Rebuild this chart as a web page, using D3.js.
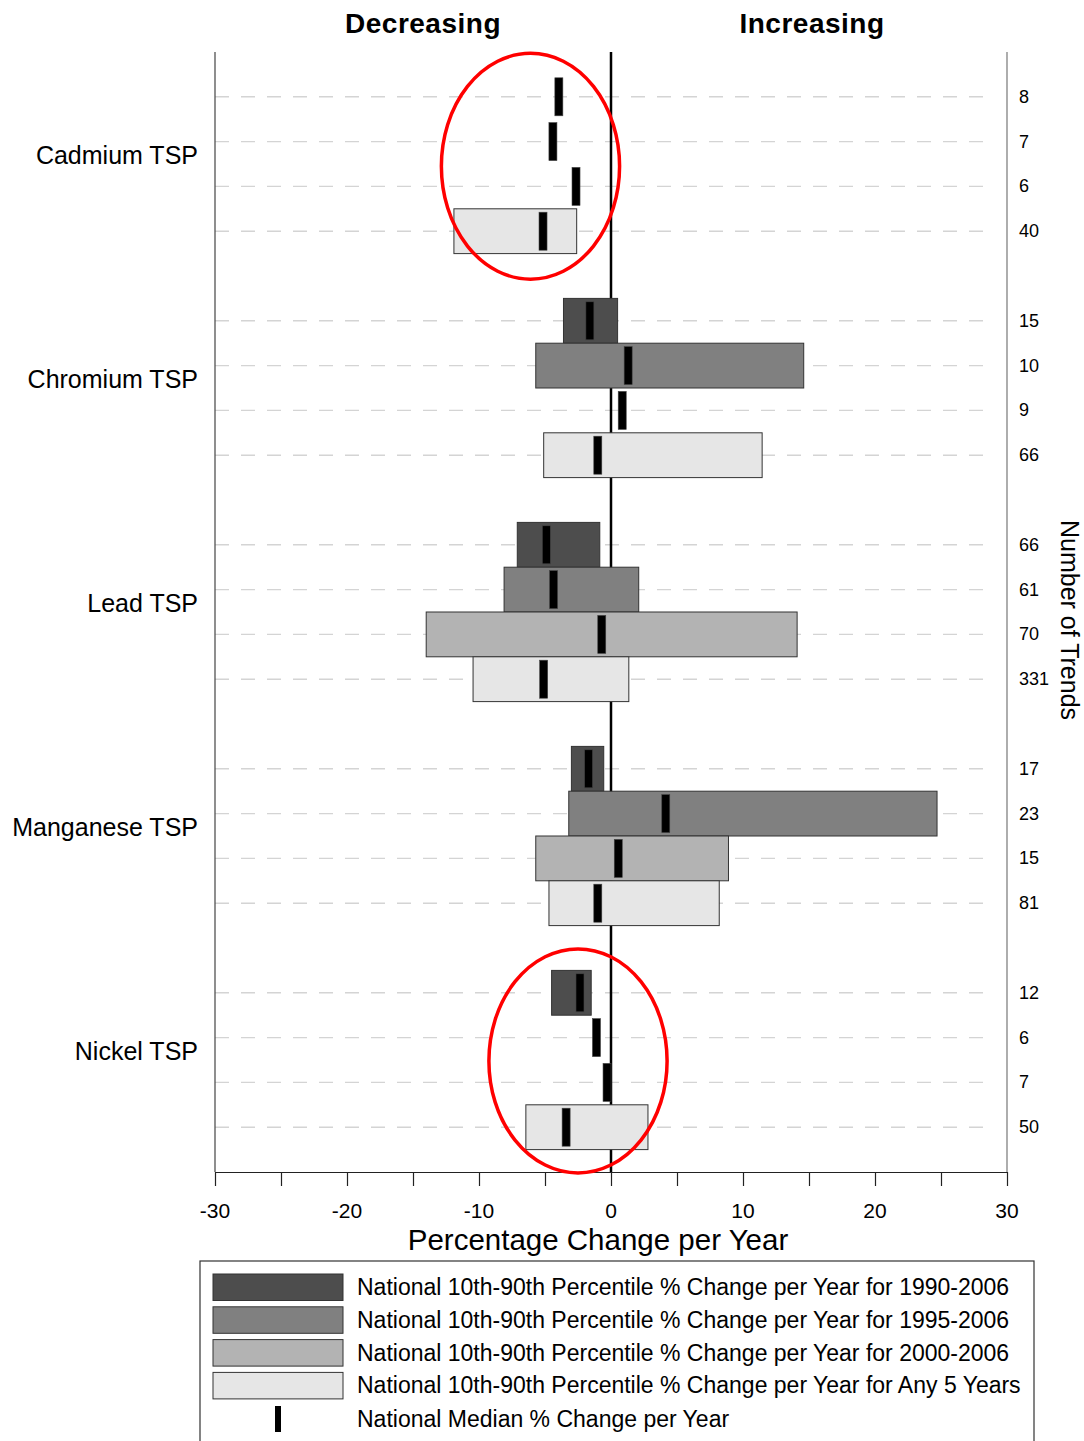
<!DOCTYPE html>
<html>
<head>
<meta charset="utf-8">
<script src="https://cdn.jsdelivr.net/npm/d3@7"></script>
<style>
  body { margin: 0; background: #fff; }
  svg text { font-family: Arial, "Liberation Sans", sans-serif; fill: #000; }
</style>
</head>
<body>
<div id="chart"></div>
<script>
// pollutants, top to bottom
const pollutants = ["Cadmium TSP", "Chromium TSP", "Lead TSP", "Manganese TSP", "Nickel TSP"];

// trend periods (one row each inside a pollutant group)
const periods = [
  "National 10th-90th Percentile % Change per Year for 1990-2006",
  "National 10th-90th Percentile % Change per Year for 1995-2006",
  "National 10th-90th Percentile % Change per Year for 2000-2006",
  "National 10th-90th Percentile % Change per Year for Any 5 Years"
];
const medianLabel = "National Median % Change per Year";

// 10th percentile (null = no bar shown)
const p10 = [
  [null, null, null, -11.9],
  [-3.6, -5.7, null, -5.1],
  [-7.1, -8.1, -14.0, -10.45],
  [-3.0, -3.2, -5.7, -4.7],
  [-4.5, null, null, -6.45]
];

// 90th percentile
const p90 = [
  [null, null, null, -2.6],
  [0.5, 14.6, null, 11.45],
  [-0.85, 2.1, 14.1, 1.35],
  [-0.55, 24.7, 8.9, 8.2],
  [-1.5, null, null, 2.8]
];

// medians
const medians = [
  [-3.95, -4.4, -2.65, -5.15],
  [-1.6, 1.3, 0.85, -1.0],
  [-4.9, -4.35, -0.7, -5.1],
  [-1.7, 4.15, 0.55, -1.0],
  [-2.35, -1.1, -0.3, -3.4]
];

// number of trends (right side labels)
const trendCounts = [
  [8, 7, 6, 40],
  [15, 10, 9, 66],
  [66, 61, 70, 331],
  [17, 23, 15, 81],
  [12, 6, 7, 50]
];

const periodColors = ["#4d4d4d", "#808080", "#b3b3b3", "#e6e6e6"];

// highlighted groups (red ellipses): [center value, center row, x radius, row radius]
const highlights = [
  [-6.1, 2.55, 6.75, 2.52],
  [-2.5, 22.52, 6.75, 2.5]
];

const xTicks = [-30, -20, -10, 0, 10, 20, 30];

const W = 1084, H = 1441;
const plot = { left: 215, right: 1007, top: 52, bottom: 1172 };

const svg = d3.select("#chart").append("svg")
  .attr("width", W)
  .attr("height", H);

const x = d3.scaleLinear().domain([-30, 30]).range([plot.left, plot.right]);
// 5 slots per pollutant (4 rows + gap), 25 slots in all
const y = d3.scaleLinear().domain([0, 25]).range([plot.top, plot.bottom]);
const rowH = y(1) - y(0);

// flatten rows
const rows = [];
pollutants.forEach((p, gi) => {
  periods.forEach((per, pi) => {
    rows.push({
      group: gi, period: pi, slot: gi * 5 + pi + 1,
      lo: p10[gi][pi], hi: p90[gi][pi], med: medians[gi][pi], n: trendCounts[gi][pi]
    });
  });
});

// dashed gridlines
svg.append("g").selectAll("line")
  .data(rows)
  .join("line")
    .attr("x1", plot.left)
    .attr("x2", plot.right - 12)
    .attr("y1", d => y(d.slot))
    .attr("y2", d => y(d.slot))
    .attr("stroke", "#d4d4d4")
    .attr("stroke-width", 1.4)
    .attr("stroke-dasharray", "14,12");

// zero line
svg.append("line")
  .attr("x1", x(0)).attr("x2", x(0))
  .attr("y1", plot.top).attr("y2", plot.bottom)
  .attr("stroke", "#000")
  .attr("stroke-width", 2.5);

// percentile bars
svg.append("g").selectAll("rect")
  .data(rows.filter(d => d.lo !== null))
  .join("rect")
    .attr("x", d => x(d.lo))
    .attr("width", d => x(d.hi) - x(d.lo))
    .attr("y", d => y(d.slot) - rowH / 2)
    .attr("height", rowH)
    .attr("fill", d => periodColors[d.period])
    .attr("stroke", "#333")
    .attr("stroke-width", 1);

// medians
svg.append("g").selectAll("rect")
  .data(rows)
  .join("rect")
    .attr("x", d => x(d.med) - 4)
    .attr("width", 8)
    .attr("y", d => y(d.slot) - 19)
    .attr("height", 38)
    .attr("fill", "#000")
    .attr("stroke", "#444")
    .attr("stroke-width", 0.6);

// left and right frame lines
svg.append("line")
  .attr("x1", plot.left).attr("x2", plot.left)
  .attr("y1", plot.top).attr("y2", plot.bottom)
  .attr("stroke", "#444").attr("stroke-width", 1.2);
svg.append("line")
  .attr("x1", plot.right).attr("x2", plot.right)
  .attr("y1", plot.top).attr("y2", plot.bottom)
  .attr("stroke", "#777").attr("stroke-width", 1.2);

// bottom axis
const xAxis = svg.append("g")
  .attr("transform", `translate(0,${plot.bottom})`)
  .call(d3.axisBottom(x).tickValues(d3.range(-30, 31, 5)).tickSize(14).tickSizeOuter(0).tickFormat(""));
xAxis.select(".domain").attr("stroke", "#222").attr("stroke-width", 1.2);
xAxis.selectAll(".tick line").attr("stroke", "#222").attr("stroke-width", 1.2);

svg.append("g").selectAll("text")
  .data(xTicks)
  .join("text")
    .attr("x", d => x(d))
    .attr("y", 1218)
    .attr("text-anchor", "middle")
    .style("font-size", "21px")
    .text(d => d);

svg.append("text")
  .attr("x", 598)
  .attr("y", 1250)
  .attr("text-anchor", "middle")
  .style("font-size", "29.5px")
  .text("Percentage Change per Year");

// pollutant labels
svg.append("g").selectAll("text")
  .data(pollutants)
  .join("text")
    .attr("x", 198)
    .attr("y", (d, i) => y(i * 5 + 2.5))
    .attr("text-anchor", "end")
    .style("font-size", "25px")
    .text(d => d);

// number of trends
svg.append("g").selectAll("text")
  .data(rows)
  .join("text")
    .attr("x", 1019)
    .attr("y", d => y(d.slot) + 6)
    .style("font-size", "18px")
    .text(d => d.n);

svg.append("text")
  .attr("transform", "translate(1061,620) rotate(90)")
  .attr("text-anchor", "middle")
  .style("font-size", "25px")
  .text("Number of Trends");

// headers
svg.append("text")
  .attr("x", 423).attr("y", 33)
  .attr("text-anchor", "middle")
  .style("font-size", "28px").style("font-weight", "bold").style("letter-spacing", "0.5px")
  .text("Decreasing");
svg.append("text")
  .attr("x", 812).attr("y", 33)
  .attr("text-anchor", "middle")
  .style("font-size", "28px").style("font-weight", "bold").style("letter-spacing", "0.5px")
  .text("Increasing");

// red ellipses
svg.append("g").selectAll("ellipse")
  .data(highlights)
  .join("ellipse")
    .attr("cx", d => x(d[0]))
    .attr("cy", d => y(d[1]))
    .attr("rx", d => x(d[2]) - x(0))
    .attr("ry", d => d[3] * rowH)
    .attr("fill", "none")
    .attr("stroke", "#ff0000")
    .attr("stroke-width", 3.5);

// legend
svg.append("rect")
  .attr("x", 200).attr("y", 1261)
  .attr("width", 834).attr("height", 200)
  .attr("fill", "#fff")
  .attr("stroke", "#333").attr("stroke-width", 1.2);

const legend = svg.append("g").selectAll("g")
  .data(periods)
  .join("g")
    .attr("transform", (d, i) => `translate(213,${1274 + i * 32.8})`);

legend.append("rect")
  .attr("width", 130).attr("height", 26.5)
  .attr("fill", (d, i) => periodColors[i])
  .attr("stroke", "#333").attr("stroke-width", 1);

legend.append("text")
  .attr("x", 144).attr("y", 21)
  .style("font-size", "23px")
  .text(d => d);

svg.append("rect")
  .attr("x", 275).attr("y", 1406)
  .attr("width", 6).attr("height", 26)
  .attr("fill", "#000");
svg.append("text")
  .attr("x", 357).attr("y", 1427)
  .style("font-size", "23px")
  .text(medianLabel);
</script>
</body>
</html>
